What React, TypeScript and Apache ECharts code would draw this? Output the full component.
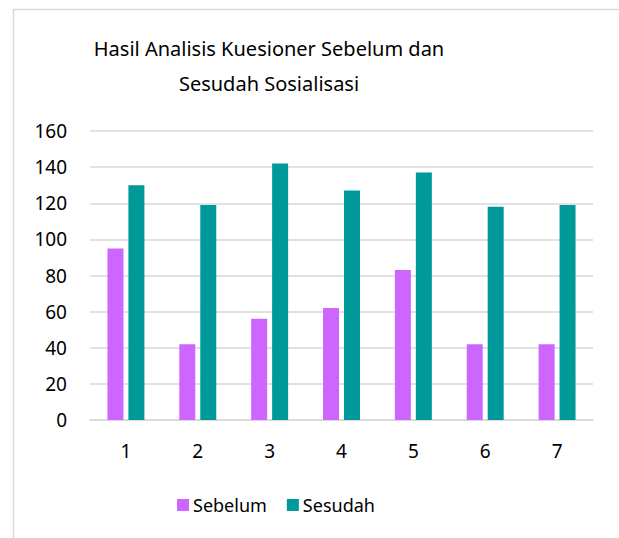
import React, { useEffect, useRef } from "react";
import * as echarts from "echarts";

const categories = ["1", "2", "3", "4", "5", "6", "7"];
const sebelum = [95, 42, 56, 62, 83, 42, 42];
const sesudah = [130, 119, 142, 127, 137, 118, 119];
const seriesNames = ["Sebelum", "Sesudah"];
const titleLines = ["Hasil Analisis Kuesioner Sebelum dan", "Sesudah Sosialisasi"];

const FONT = "'Noto Sans', sans-serif";

export default function App() {
  const ref = useRef<HTMLDivElement>(null);
  useEffect(() => {
    if (!ref.current) return;
    const chart = echarts.init(ref.current, undefined, { renderer: "svg" });
    chart.setOption({
      animation: false,
      backgroundColor: "#ffffff",
      textStyle: { fontFamily: FONT },
      title: {
        text: titleLines.join("\n"),
        left: 264,
        textAlign: "center",
        top: 26,
        textStyle: {
          fontFamily: FONT,
          fontSize: 20,
          fontWeight: "normal",
          color: "#000000",
          lineHeight: 35,
        },
      },
      graphic: [
        {
          type: "rect",
          shape: { x: 13.5, y: 9.5, width: 700, height: 700 },
          style: { fill: "none", stroke: "#d9d9d9", lineWidth: 1.5 },
          silent: true,
        },
      ],
      legend: {
        data: seriesNames,
        left: 172,
        top: 491,
        itemWidth: 12,
        itemHeight: 12,
        itemGap: 20,
        icon: "rect",
        textStyle: { fontFamily: FONT, fontSize: 18, color: "#000000", padding: [0, 0, 0, -1] },
      },
      grid: { left: 90, right: 26, top: 131, bottom: 118 },
      xAxis: {
        type: "category",
        data: categories,
        axisLine: { lineStyle: { color: "#d9d9d9", width: 1.5 } },
        axisTick: { show: false },
        axisLabel: { color: "#000000", fontSize: 19, fontFamily: FONT, margin: 21 },
      },
      yAxis: {
        type: "value",
        min: 0,
        max: 160,
        interval: 20,
        axisLine: { show: false },
        axisTick: { show: false },
        splitLine: { lineStyle: { color: "#d9d9d9", width: 1.5 } },
        axisLabel: { color: "#000000", fontSize: 19, fontFamily: FONT, margin: 23 },
      },
      series: [
        {
          name: seriesNames[0],
          type: "bar",
          data: sebelum,
          barWidth: 16,
          barGap: "31%",
          itemStyle: { color: "#cc66ff" },
        },
        {
          name: seriesNames[1],
          type: "bar",
          data: sesudah,
          barWidth: 16,
          barGap: "31%",
          itemStyle: { color: "#009999" },
        },
      ],
    });
    return () => chart.dispose();
  }, []);
  return (
    <div
      ref={ref}
      style={{ position: "fixed", left: 0, top: 0, width: 619, height: 538 }}
    />
  );
}
